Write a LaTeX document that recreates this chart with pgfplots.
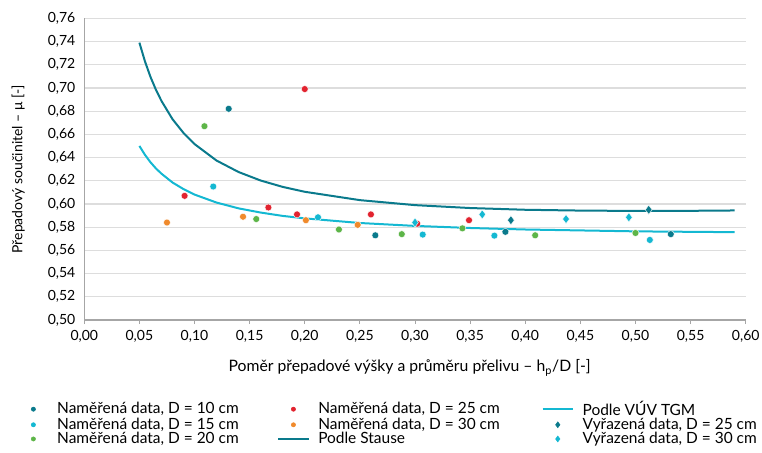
\documentclass[border=0pt]{standalone}
\usepackage{fontspec}
\setmainfont{Lato}
\usepackage{pgfplots}
\pgfplotsset{compat=1.18}
\definecolor{cTen}{HTML}{0A7A8C}
\definecolor{cFif}{HTML}{14B8D2}
\definecolor{cTwe}{HTML}{5DB548}
\definecolor{cTwf}{HTML}{E2232F}
\definecolor{cThi}{HTML}{F08A2C}
\definecolor{gridc}{HTML}{DDDDDD}
\definecolor{axc}{HTML}{A6A6A6}
\pgfplotsset{
  legmark/.style={legend image code/.code={\path[draw=none,fill=none] (0cm,-0.05cm) rectangle (0.8cm,0.05cm); \draw[##1] plot coordinates {(0.4cm,0cm)};}},
  legline/.style={legend image code/.code={\draw[##1] (0cm,0cm) -- (0.8cm,0cm);}},
}
\newcommand\lca[1]{\makebox[163.5pt][l]{#1}}
\newcommand\lcb[1]{\makebox[166pt][l]{#1}}
\begin{document}
\fontsize{10.5}{12.4}\selectfont
\begin{tikzpicture}
\begin{axis}[
  scale only axis,
  width=496.05pt, height=226.3pt,
  xmin=0, xmax=0.6, ymin=0.5, ymax=0.76,
  xtick={0,0.05,0.1,0.15,0.2,0.25,0.3,0.35,0.4,0.45,0.5,0.55,0.6},
  ytick={0.5,0.52,0.54,0.56,0.58,0.6,0.62,0.64,0.66,0.68,0.7,0.72,0.74,0.76},
  /pgf/number format/.cd, use comma, fixed, fixed zerofill, precision=2, assume math mode=true, /pgfplots/.cd,
  axis x line*=bottom, axis y line*=left,
  axis line style={axc, line width=0.8pt, -},
  ymajorgrids, grid style={gridc, line width=0.9pt},
  tick align=outside,
  xtick style={axc, line width=0.6pt}, major tick length=3pt,
  ytick style={draw=none},
  tick label style={font=\fontsize{10.5}{12}\selectfont},
  xticklabel style={yshift=-1pt},
  every axis x label/.style={at={(axis description cs:0.5,0)}, yshift=-36pt, xshift=-4pt, anchor=center, font=\fontsize{11.8}{13}\selectfont},
  every axis y label/.style={at={(axis description cs:0,0.5)}, xshift=-49.5pt, rotate=90, anchor=center},
  xlabel={Poměr přepadové výšky a průměru přelivu – h\textsubscript{p}/D [-]},
  ylabel={Přepadový součinitel – μ [-]},
  legend columns=3,
  legend cell align=left,
  legend style={at={(axis description cs:0,0)}, anchor=north west, xshift=-52.75pt, yshift=-57pt,
    draw=none, fill=none, font=\fontsize{11.6}{12.4}\selectfont, row sep=-2.5pt,
    nodes={inner sep=1.5pt},
    /tikz/every odd column/.append style={column sep=5pt},
    /tikz/every even column/.append style={column sep=0pt}},
]
% curves
\addplot[forget plot, cTen, line width=1.5pt] coordinates {
(0.050,0.739) (0.055,0.723) (0.060,0.7096) (0.065,0.6984) (0.070,0.6888) (0.080,0.6731)
(0.090,0.6612) (0.100,0.6516) (0.120,0.6374) (0.140,0.6275) (0.160,0.6202) (0.180,0.6147)
(0.200,0.6105) (0.250,0.6033) (0.300,0.599) (0.350,0.5965) (0.400,0.595) (0.450,0.5943)
(0.500,0.594) (0.550,0.5941) (0.590,0.5944)};
\addplot[forget plot, cFif, line width=1.5pt] coordinates {
(0.050,0.650) (0.055,0.6424) (0.060,0.636) (0.065,0.6306) (0.070,0.6261) (0.080,0.6185)
(0.090,0.6128) (0.100,0.6081) (0.120,0.6012) (0.140,0.5962) (0.160,0.5926) (0.180,0.5897)
(0.200,0.5876) (0.250,0.5836) (0.300,0.5811) (0.350,0.5793) (0.400,0.578) (0.450,0.5772)
(0.500,0.5764) (0.550,0.576) (0.590,0.5757)};
% measured data
\addplot[forget plot, only marks, mark=*, mark size=2.6pt, cTen, mark options={draw=white, line width=0.3pt, fill=cTen}] coordinates {
(0.131,0.682) (0.264,0.573) (0.382,0.576) (0.532,0.574)};
\addplot[forget plot, only marks, mark=*, mark size=2.6pt, cFif, mark options={draw=white, line width=0.3pt, fill=cFif}] coordinates {
(0.117,0.615) (0.212,0.5885) (0.307,0.5736) (0.372,0.5727) (0.513,0.569)};
\addplot[forget plot, only marks, mark=*, mark size=2.6pt, cTwe, mark options={draw=white, line width=0.3pt, fill=cTwe}] coordinates {
(0.109,0.667) (0.156,0.587) (0.231,0.578) (0.288,0.574) (0.343,0.579) (0.409,0.573) (0.500,0.575)};
\addplot[forget plot, only marks, mark=*, mark size=2.6pt, cTwf, mark options={draw=white, line width=0.3pt, fill=cTwf}] coordinates {
(0.091,0.607) (0.167,0.597) (0.193,0.591) (0.200,0.699) (0.260,0.591) (0.302,0.583) (0.349,0.586)};
\addplot[forget plot, only marks, mark=*, mark size=2.6pt, cThi, mark options={draw=white, line width=0.3pt, fill=cThi}] coordinates {
(0.075,0.584) (0.144,0.589) (0.201,0.586) (0.248,0.582)};
% discarded data
\addplot[forget plot, only marks, mark=diamond*, mark size=3.4pt, cTen, mark options={draw=white, line width=0.3pt, fill=cTen}] coordinates {
(0.387,0.586) (0.512,0.595)};
\addplot[forget plot, only marks, mark=diamond*, mark size=3.4pt, cFif, mark options={draw=white, line width=0.3pt, fill=cFif}] coordinates {
(0.300,0.584) (0.361,0.591) (0.437,0.587) (0.494,0.5885)};
% legend (row-wise order)
\addlegendimage{legmark, only marks, mark=*, mark size=1.6pt, cTen, fill=cTen}
\addlegendentry{\lca{Naměřená data, D = 10 cm}}
\addlegendimage{legmark, only marks, mark=*, mark size=1.6pt, cTwf, fill=cTwf}
\addlegendentry{\lcb{Naměřená data, D = 25 cm}}
\addlegendimage{legline, cFif, line width=1.5pt}
\addlegendentry{Podle VÚV TGM}
\addlegendimage{legmark, only marks, mark=*, mark size=1.6pt, cFif, fill=cFif}
\addlegendentry{\lca{Naměřená data, D = 15 cm}}
\addlegendimage{legmark, only marks, mark=*, mark size=1.6pt, cThi, fill=cThi}
\addlegendentry{\lcb{Naměřená data, D = 30 cm}}
\addlegendimage{legmark, only marks, mark=diamond*, mark size=2.2pt, cTen, fill=cTen}
\addlegendentry{Vyřazená data, D = 25 cm}
\addlegendimage{legmark, only marks, mark=*, mark size=1.6pt, cTwe, fill=cTwe}
\addlegendentry{\lca{Naměřená data, D = 20 cm}}
\addlegendimage{legline, cTen, line width=1.5pt}
\addlegendentry{\lcb{Podle Stause}}
\addlegendimage{legmark, only marks, mark=diamond*, mark size=2.2pt, cFif, fill=cFif}
\addlegendentry{Vyřazená data, D = 30 cm}
\coordinate (sw) at (rel axis cs:0,0);
\coordinate (ne) at (rel axis cs:1,1);
\end{axis}
\pgfresetboundingbox
\path ([xshift=-63.2pt,yshift=-99pt]sw) rectangle ([xshift=12.2pt,yshift=13.7pt]ne);
\end{tikzpicture}
\end{document}
